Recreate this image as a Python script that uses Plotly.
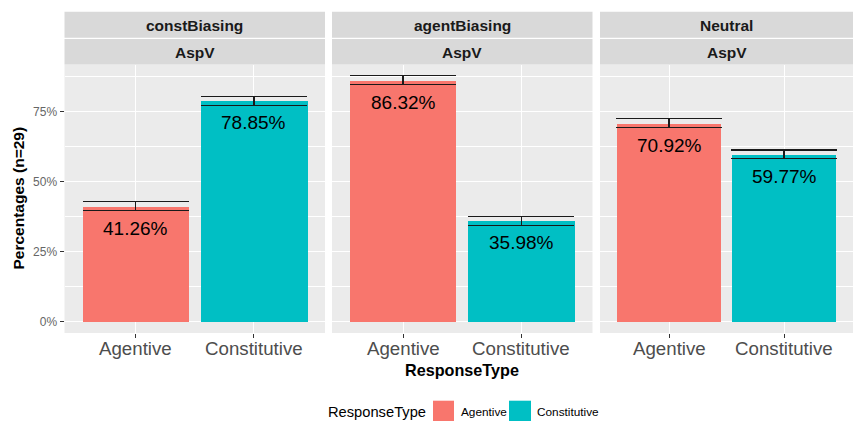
import plotly.graph_objects as go

# ---- data ----
conditions = ["constBiasing", "agentBiasing", "Neutral"]
verb_type = "AspV"
response_types = ["Agentive", "Constitutive"]
percent_agentive = [41.26, 86.32, 70.92]
percent_constitutive = [78.85, 35.98, 59.77]
err_agentive = [1.6, 1.5, 1.6]
err_constitutive = [1.6, 1.7, 1.6]
y_ticks = [0, 25, 50, 75]
y_tick_labels = ["0%", "25%", "50%", "75%"]
colors = {"Agentive": "#F8766D", "Constitutive": "#00BFC4"}

W, H = 854, 421
FONT = "Liberation Sans, Arial, Helvetica, sans-serif"

def px(p):
    return p / W

def py(p):
    return 1 - p / H

panel_px = [(64.5, 325.0), (332.0, 592.5), (600.0, 853.0)]
plot_top, plot_bot = 64.5, 333.0
y_range = [-4.04, 91.86]

fig = go.Figure()
shapes = []
annotations = []

for i, cond in enumerate(conditions):
    sfx = "" if i == 0 else str(i + 1)
    vals = [percent_agentive[i], percent_constitutive[i]]
    errs = [err_agentive[i], err_constitutive[i]]
    fig.add_trace(go.Bar(
        x=response_types, y=vals,
        marker=dict(color=[colors[r] for r in response_types], line=dict(width=0)),
        width=0.9,
        error_y=dict(type="data", array=errs, visible=True, color="#1a1a1a",
                     thickness=1.3, width=53),
        xaxis="x" + sfx, yaxis="y" + sfx, showlegend=False, hoverinfo="skip",
    ))
    for r, v in zip(response_types, vals):
        annotations.append(dict(
            x=r, y=v, xref="x" + sfx, yref="y" + sfx, yshift=-22,
            text=f"{v:.2f}%", showarrow=False,
            font=dict(family=FONT, size=19, color="#000000"),
        ))
        # x tick labels (ggplot-like placement)
        annotations.append(dict(
            x=r, y=py(348.5), xref="x" + sfx, yref="paper",
            text=r, showarrow=False, xanchor="center", yanchor="middle",
            font=dict(family=FONT, size=18.7, color="#4D4D4D"),
        ))
    x0, x1 = panel_px[i]
    fig.layout["xaxis" + sfx] = dict(
        domain=[px(x0), px(x1)], anchor="y" + sfx, type="category",
        categoryorder="array", categoryarray=response_types,
        range=[-0.6, 1.6], showgrid=True, gridcolor="white", gridwidth=1.1,
        zeroline=False, showline=False, ticks="outside", ticklen=4,
        tickcolor="#333333", tickwidth=1, showticklabels=False,
        fixedrange=True,
    )
    fig.layout["yaxis" + sfx] = dict(
        domain=[py(plot_bot), py(plot_top)], anchor="x" + sfx,
        range=y_range, tickvals=y_ticks, ticktext=y_tick_labels,
        showticklabels=(i == 0), ticks="outside" if i == 0 else "",
        ticklen=4, tickcolor="#333333", tickwidth=1,
        tickfont=dict(family=FONT, size=12, color="#666666"),
        showgrid=True, gridcolor="white", gridwidth=1.1,
        minor=dict(tickvals=[12.5, 37.5, 62.5, 87.5], showgrid=True,
                   gridcolor="white", gridwidth=0.55, ticks=""),
        zeroline=False, showline=False, fixedrange=True,
    )
    # facet strips
    for (t0, t1, label, yc) in [(11.7, 37.7, cond, 25.5), (39.0, 64.5, verb_type, 52.5)]:
        shapes.append(dict(type="rect", xref="paper", yref="paper",
                           x0=px(x0), x1=px(x1), y0=py(t1), y1=py(t0),
                           fillcolor="#D9D9D9", line=dict(width=0), layer="below"))
        annotations.append(dict(
            x=px((x0 + x1) / 2), y=py(yc), xref="paper", yref="paper",
            text=f"<b>{label}</b>", showarrow=False, xanchor="center", yanchor="middle",
            font=dict(family=FONT, size=15.5, color="#1A1A1A"),
        ))

# axis titles
annotations.append(dict(
    x=px(461.5), y=py(370), xref="paper", yref="paper", text="<b>ResponseType</b>",
    showarrow=False, xanchor="center", yanchor="middle",
    font=dict(family=FONT, size=16.2, color="#000000"),
))
annotations.append(dict(
    x=px(18), y=py(198.5), xref="paper", yref="paper", text="<b>Percentages (n=29)</b>",
    showarrow=False, xanchor="center", yanchor="middle", textangle=-90,
    font=dict(family=FONT, size=15.5, color="#000000"),
))

# legend (drawn manually, ggplot-style)
annotations.append(dict(
    x=px(326), y=py(412), xref="paper", yref="paper", text="ResponseType",
    showarrow=False, xanchor="left", yanchor="middle",
    font=dict(family=FONT, size=14.7, color="#000000"),
))
legend_items = [(response_types[0], 433, 454, 458.5), (response_types[1], 509, 531, 535)]
for r, k0, k1, tx in legend_items:
    shapes.append(dict(type="rect", xref="paper", yref="paper",
                       x0=px(k0), x1=px(k1), y0=py(424), y1=py(400.7),
                       fillcolor=colors[r], line=dict(width=0)))
    annotations.append(dict(
        x=px(tx), y=py(412), xref="paper", yref="paper", text=r,
        showarrow=False, xanchor="left", yanchor="middle",
        font=dict(family=FONT, size=11.8, color="#000000"),
    ))

fig.update_layout(
    width=W, height=H, margin=dict(l=0, r=0, t=0, b=0),
    paper_bgcolor="white", plot_bgcolor="#EBEBEB",
    shapes=shapes, annotations=annotations, showlegend=False,
    font=dict(family=FONT), bargap=0,
)

fig.write_html("out.html")
